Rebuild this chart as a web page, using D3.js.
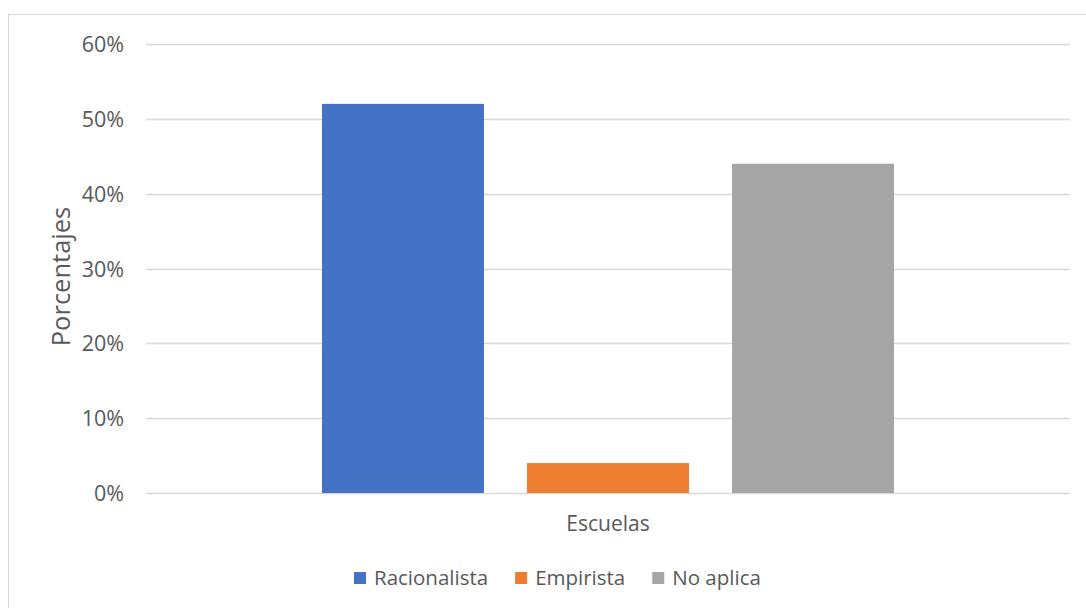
<!DOCTYPE html>
<html>
<head>
<meta charset="utf-8">
<script src="https://cdn.jsdelivr.net/npm/d3@7"></script>
<style>
  html, body { margin: 0; padding: 0; background: #ffffff; }
  svg { display: block; }
  text { font-family: "Open Sans", "Noto Sans", sans-serif; fill: #595959; }
</style>
</head>
<body>
<svg id="chart" width="1086" height="608"></svg>
<script>
// Data
const categories = ["Escuelas"];
const seriesNames = ["Racionalista", "Empirista", "No aplica"];
const seriesValues = [0.52, 0.04, 0.44];
const seriesColors = ["#4472c4", "#ed7d31", "#a5a5a5"];
const yTicks = [0, 0.1, 0.2, 0.3, 0.4, 0.5, 0.6];

const svg = d3.select("#chart");

// Chart frame
svg.append("rect")
  .attr("x", 8.5).attr("y", 14.5)
  .attr("width", 1100).attr("height", 620)
  .attr("fill", "none").attr("stroke", "#d9d9d9").attr("stroke-width", 1);

const plot = { left: 146, right: 1070, top: 44, bottom: 493 };

const y = d3.scaleLinear().domain([0, 0.6]).range([plot.bottom, plot.top]);
const x0 = d3.scaleBand().domain(categories)
  .range([plot.left, plot.right]).paddingInner(0).paddingOuter(0.3077);
const x1 = d3.scaleBand().domain(seriesNames)
  .range([0, x0.bandwidth()]).paddingInner(0.21).paddingOuter(0);

// Gridlines
svg.append("g")
  .selectAll("line")
  .data(yTicks)
  .join("line")
  .attr("x1", plot.left).attr("x2", plot.right)
  .attr("y1", d => Math.round(y(d)) + 0.5).attr("y2", d => Math.round(y(d)) + 0.5)
  .attr("stroke", "#d9d9d9").attr("stroke-width", 1.3);

// Y axis labels
const yAxis = d3.axisLeft(y).tickValues(yTicks).tickFormat(d3.format(".0%")).tickSize(0).tickPadding(0);
const gy = svg.append("g").attr("transform", `translate(${plot.left - 22},0)`).call(yAxis);
gy.select(".domain").remove();
gy.selectAll("text")
  .attr("font-size", 21.5)
  .style("font-family", "'Open Sans', sans-serif")
  .attr("fill", "#595959")
  .attr("dy", "0.35em");

// Bars
const groups = svg.append("g")
  .selectAll("g")
  .data(categories)
  .join("g")
  .attr("transform", d => `translate(${x0(d)},0)`);

groups.selectAll("rect")
  .data(() => seriesNames.map((s, i) => ({ name: s, value: seriesValues[i], color: seriesColors[i] })))
  .join("rect")
  .attr("x", d => x1(d.name))
  .attr("width", x1.bandwidth())
  .attr("y", d => y(d.value))
  .attr("height", d => y(0) - y(d.value))
  .attr("fill", d => d.color);

// Category axis label
const xAxis = d3.axisBottom(x0).tickSize(0).tickPadding(0);
const gx = svg.append("g").attr("transform", `translate(0,${plot.bottom + 31})`).call(xAxis);
gx.select(".domain").remove();
gx.selectAll("text")
  .attr("font-size", 21)
  .style("font-family", "'Open Sans', sans-serif")
  .attr("fill", "#595959")
  .attr("dy", "0.35em");

// Y axis title
svg.append("text")
  .attr("transform", `translate(61,${(plot.top + plot.bottom) / 2 + 8}) rotate(-90)`)
  .attr("text-anchor", "middle")
  .attr("dy", "0.35em")
  .attr("font-size", 25.5)
  .text("Porcentajes");

// Legend
const legend = svg.append("g").attr("transform", "translate(354,578)");
let cursor = 0;
seriesNames.forEach((name, i) => {
  const item = legend.append("g").attr("transform", `translate(${cursor},0)`);
  item.append("rect")
    .attr("x", 0).attr("y", -6)
    .attr("width", 12).attr("height", 12)
    .attr("fill", seriesColors[i]);
  const t = item.append("text")
    .attr("x", 20).attr("dy", "0.35em")
    .attr("font-size", 20.5)
    .text(name);
  cursor += 20 + t.node().getComputedTextLength() + 27;
});
</script>
</body>
</html>
